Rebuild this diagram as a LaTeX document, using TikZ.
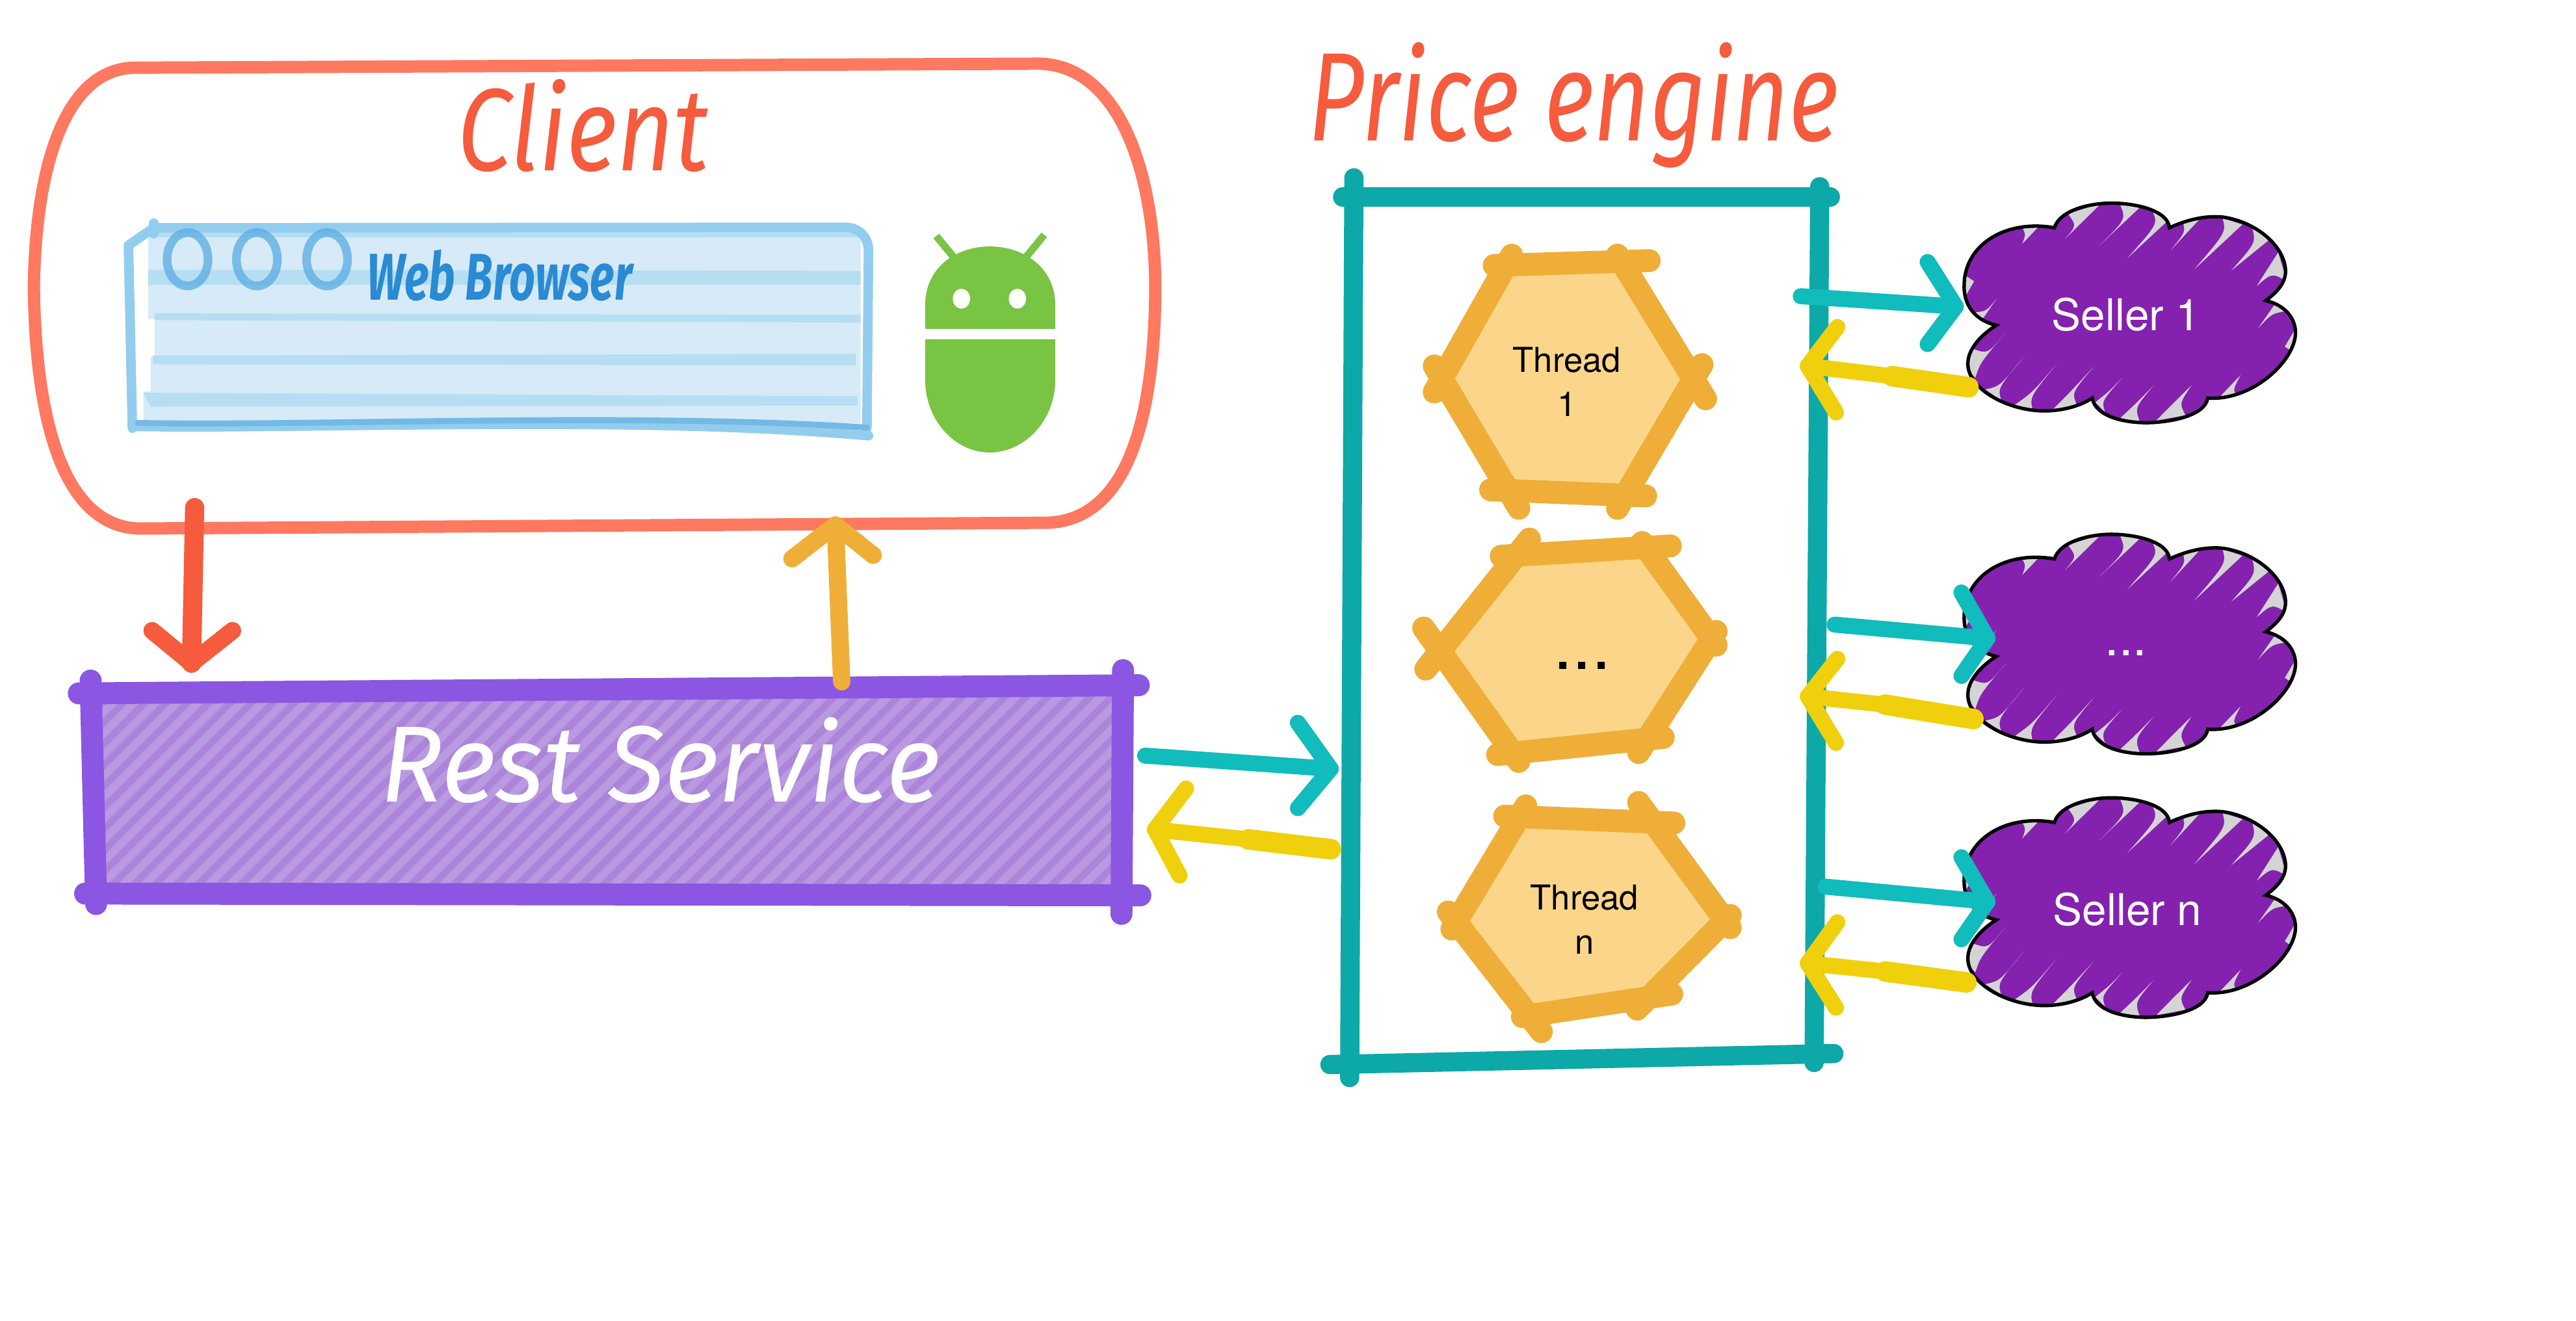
\documentclass[tikz,border=0pt]{standalone}
\usepackage{fontspec}
\setmainfont{TeX Gyre Heros}
\newfontfamily\hand{Fira Sans}
\definecolor{clientred}{HTML}{FF7860}
\definecolor{titlered}{HTML}{F55B3C}
\definecolor{bfill}{HTML}{D6EBF7}
\definecolor{bstripe}{HTML}{B6DEF2}
\definecolor{bline}{HTML}{92CDEE}
\definecolor{bcirc}{HTML}{5BACE2}
\definecolor{btext}{HTML}{2A8AD4}
\definecolor{droid}{HTML}{79C443}
\definecolor{restline}{HTML}{8A56E2}
\definecolor{restfill}{HTML}{B999E0}
\definecolor{resthatch}{HTML}{AC84DA}
\definecolor{tealbox}{HTML}{0DA8A8}
\definecolor{tealarrow}{HTML}{10BCBC}
\definecolor{yellowarrow}{HTML}{F0D00C}
\definecolor{hexline}{HTML}{EFAE38}
\definecolor{hexfill}{HTML}{FBD68A}
\definecolor{cloudfill}{HTML}{8421AE}
\definecolor{cloudgrey}{HTML}{D4D4D4}
\tikzset{
  zA/.style={shift={(0,15.8)},xscale=.4797,yscale=.3533},
  zB/.style={shift={(791.5,15.8)},xscale=.429,yscale=.4165},
  zC/.style={shift={(1187.3,119.1+#1)},xscale=.1505,yscale=.1304},
  hexedge/.style={draw=hexline,line width=10pt,line cap=round,line join=round},
  hexbody/.style={fill=hexfill},
  tealedge/.style={draw=tealbox,line width=8.4pt,line cap=round},
  restedge/.style={draw=restline,line width=9.6pt,line cap=round},
  arrowline/.style={line width=#1,line cap=round,line join=round},
  tealarr/.style={draw=tealarrow,arrowline=7pt},
  yellowarr/.style={draw=yellowarrow,arrowline=7pt},
  yellowfat/.style={draw=yellowarrow,arrowline=9pt},
  bedge/.style={draw=bline,line width=4.2pt,line cap=round,line join=round},
  bcircle/.style={draw=bcirc,opacity=.75,line width=3.8pt},
  handtitle/.style={inner sep=0pt,text=titlered},
}
\newcommand{\cloudpath}{(185,605) .. controls (90,580) and (50,500) .. (55,410) .. controls (60,230) and (220,110) .. (420,150)
 .. controls (440,70) and (560,35) .. (650,35) .. controls (750,35) and (880,70) .. (885,150)
 .. controls (980,100) and (1050,95) .. (1100,100) .. controls (1230,120) and (1350,230) .. (1355,350) .. controls (1355,410) and (1320,450) .. (1275,490)
 .. controls (1350,510) and (1395,570) .. (1395,640) .. controls (1395,770) and (1220,960) .. (1040,945)
 .. controls (1030,1030) and (880,1060) .. (790,1060) .. controls (700,1060) and (585,1030) .. (573,945)
 .. controls (500,1000) and (410,1005) .. (380,1005) .. controls (230,1005) and (65,900) .. (70,780) .. controls (72,710) and (130,645) .. (185,605) -- cycle}
\newcommand{\cloudat}[5]{%
\begin{scope}[zC=#1]
 \fill[cloudfill] \cloudpath;
 \begin{scope}
  \clip \cloudpath;
  \fill[cloudgrey]
   (290,225) .. controls (305,180) .. (285,140) -- (360,140) -- cycle
   (462,203) .. controls (510,140) .. (475,85) -- (610,35) -- cycle
   (603,232) .. controls (710,110) .. (685,40) -- (770,50) -- cycle
   (715,292) .. controls (840,130) .. (815,70) -- (885,110) -- cycle
   (888,258) .. controls (950,170) .. (940,125) -- (1015,100) -- cycle
   (985,345) .. controls (1115,170) .. (1100,105) -- (1180,135) -- cycle
   (1135,350) .. controls (1235,220) .. (1220,150) -- (1290,205) -- cycle
   (1238,422) -- (1325,265) -- (1360,400) .. controls (1300,360) .. (1238,422) -- cycle
   (1243,620) -- (1310,510) -- (1355,540) .. controls (1300,550) .. (1243,620) -- cycle
   (1352,705) -- (1395,620) -- (1378,725) -- cycle
   (50,365) -- (95,400) -- (50,490) -- cycle
   (187,480) .. controls (145,540) .. (95,545) -- (130,575) -- cycle
   (222,640) .. controls (150,740) .. (90,715) -- (60,800) -- (100,850) .. controls (120,780) .. (222,640) -- cycle
   (298,750) .. controls (200,890) .. (140,905) -- (205,955) .. controls (190,900) .. (298,750) -- cycle
   (430,785) .. controls (330,920) .. (258,978) -- (332,1000) .. controls (320,940) .. (430,785) -- cycle
   (580,797) .. controls (490,910) .. (412,1000) -- (510,975) .. controls (490,920) .. (580,797) -- cycle
   (695,850) .. controls (640,915) .. (585,965) -- (625,1010) .. controls (610,960) .. (695,850) -- cycle
   (820,888) .. controls (750,970) .. (685,1040) -- (765,1055) .. controls (745,990) .. (820,888) -- cycle
   (975,885) .. controls (900,970) .. (832,1050) -- (950,1025) .. controls (925,970) .. (975,885) -- cycle
   (1173,838) -- (1080,950) -- (1165,940) .. controls (1140,910) .. (1173,838) -- cycle;
 \end{scope}
 \draw[black,line width=1.5pt] \cloudpath;
 \node[#4,text=white,inner sep=0pt] (#2) at (#5) {#3};
\end{scope}}
\begin{document}
\begin{tikzpicture}[x=0.025268cm,y=-0.025268cm]
\useasboundingbox (0,0) rectangle (1568,804);
\fill[white] (0,0) rectangle (1568,804);

% ---------- client
\begin{scope}[zA]
 \draw[clientred,line width=5.4pt] (170,72) -- (1320,65) .. controls (1420,70) and (1465,250) .. (1466,450) .. controls (1465,680) and (1430,850) .. (1330,856) -- (175,866) .. controls (80,860) and (45,680) .. (43,450) .. controls (45,250) and (80,75) .. (170,72) -- cycle;
 \node[handtitle] (clienttitle) at (740,172) {\resizebox{110pt}{40pt}{\hand\itshape Client}};
 % browser
 \fill[bfill] (188,352) -- (1092,352) -- (1092,685) -- (182,685) -- (182,630) -- (191,630) -- (191,570) -- (196,570) -- (196,505) -- (188,505) -- cycle;
 \fill[bstripe] (188,352) -- (1092,352) -- (1092,364) -- (188,364) -- cycle;
 \fill[bstripe] (188,420) -- (1092,422) -- (1092,446) -- (188,446) -- cycle;
 \fill[bstripe] (196,495) -- (1092,498) -- (1092,511) -- (196,507) -- cycle;
 \fill[bstripe] (194,568) -- (1086,565) -- (1086,585) -- (194,583) -- cycle;
 \fill[bstripe] (182,632) -- (1088,638) -- (1088,654) -- (191,656) -- cycle;
 \draw[bedge] (168,693) -- (163,378) -- (195,348) -- (1075,347) .. controls (1095,350) and (1103,370) .. (1102,392) -- (1100,693);
 \draw[bedge] (195,340) -- (195,358);
 \draw[bedge] (168,690) .. controls (400,695) and (800,670) .. (1102,706);
 \draw[bedge,draw=bline!70!btext,line width=2.6pt] (175,684) .. controls (400,690) and (800,665) .. (1100,692);
 \foreach \cx/\cn in {238/a,326/b,415/c}
  \draw[bcircle] (\cx,402) ellipse [x radius=26,y radius=46];
 \node[inner sep=0pt,text=btext] (webbrowser) at (634,430) {\resizebox{116pt}{22pt}{\hand\bfseries\itshape Web Browser}};
 % android
 \fill[droid] (1174,522) -- (1174,480) .. controls (1174,420) and (1210,380) .. (1256,380) .. controls (1302,380) and (1339,420) .. (1339,480) -- (1339,522) -- cycle;
 \fill[droid] (1174,540) -- (1339,540) -- (1339,610) .. controls (1339,680) and (1300,735) .. (1256,735) .. controls (1212,735) and (1174,680) .. (1174,610) -- cycle;
 \fill[white] (1220,470) ellipse [x radius=11,y radius=17];
 \fill[white] (1291,470) ellipse [x radius=11,y radius=17];
 \draw[droid,line width=3.2pt] (1216,408) -- (1188,362);
 \draw[droid,line width=3.2pt] (1296,408) -- (1325,360);
\end{scope}

% ---------- rest service
\fill[restfill] (60,426) -- (678,421) -- (678,542) -- (60,540) -- cycle;
\begin{scope}
 \clip (60,426) -- (678,421) -- (678,542) -- (60,540) -- cycle;
 \foreach \i in {-120,-107,...,700}
  \draw[resthatch,line width=3pt] (\i,545) -- ++(130,-130);
\end{scope}
\begin{scope}[zA]
 \draw[restedge] (100,1150) -- (1445,1136);
 \draw[restedge] (108,1495) -- (1447,1498);
 \draw[restedge] (115,1128) -- (122,1513);
 \draw[restedge] (1425,1110) -- (1423,1530);
 \node[inner sep=0pt,text=white] (restservice) at (838,1265) {\resizebox{245pt}{37pt}{\hand\itshape Rest Service}};
 % client <-> rest arrows
 \coordinate (redstart) at (247,830);
 \coordinate (redend) at (243,1098);
 \coordinate (redl) at (193,1042);
 \coordinate (redr) at (295,1042);
 \coordinate (orstart) at (1068,1130);
 \coordinate (orend) at (1060,860);
 \coordinate (orl) at (1005,918);
 \coordinate (orr) at (1108,912);
\end{scope}
\draw[titlered,arrowline=8.4pt] (redstart) -- (redend);
\draw[titlered,arrowline=7.6pt] (redl) -- (redend) -- (redr);
\draw[hexline,arrowline=7.6pt] (orstart) -- (orend);
\draw[hexline,arrowline=7.6pt] (orl) -- (orend) -- (orr);

% ---------- price engine
\begin{scope}[zB]
 \node[handtitle] (enginetitle) at (388,116) {\resizebox{232pt}{43pt}{\hand\itshape Price engine}};
 \draw[tealedge] (60,250) -- (752,250);
 \draw[tealedge] (42,1518) -- (757,1502);
 \draw[tealedge] (76,222) -- (70,1537);
 \draw[tealedge] (737,235) -- (729,1515);
 % hexagon 1
 \fill[hexbody] (300,350) -- (460,345) -- (555,520) -- (465,680) -- (295,675) -- (205,510) -- cycle;
 \draw[hexedge] (275,350) -- (495,343) (450,335) -- (575,545) (570,495) -- (450,705) (490,687) -- (270,678) (190,497) -- (310,705) (300,335) -- (190,535);
 \node[align=center,font=\fontsize{15}{19.5}\selectfont,inner sep=0pt] (thread1) at (378,520) {Thread\\1};
 % hexagon 2
 \fill[hexbody] (310,780) -- (495,765) -- (580,895) -- (505,1035) -- (295,1058) -- (205,920) -- cycle;
 \draw[hexedge] (285,775) -- (525,760) (485,755) -- (590,905) (590,885) -- (480,1062) (515,1040) -- (280,1065) (310,1075) -- (175,880) (325,750) -- (178,940);
 \node[font=\fontsize{30}{34}\selectfont,inner sep=0pt] (threaddots) at (400,935) {...};
 % hexagon 3
 \fill[hexbody] (325,1158) -- (495,1165) -- (600,1305) -- (495,1408) -- (330,1440) -- (225,1305) -- cycle;
 \draw[hexedge] (290,1155) -- (530,1165) (480,1135) -- (610,1318) (610,1300) -- (478,1437) (527,1415) -- (315,1448) (210,1295) -- (342,1470) (320,1140) -- (215,1320);
 \node[align=center,font=\fontsize{15}{19.5}\selectfont,inner sep=0pt] (threadn) at (403,1306) {Thread\\n};
\end{scope}

% ---------- sellers
\cloudat{0}{seller1}{Seller 1}{font=\fontsize{19.2}{22}\selectfont}{710,555}
\cloudat{201.6}{sellerdots}{...}{font=\fontsize{22}{26}\selectfont}{710,590}
\cloudat{362}{sellern}{Seller n}{font=\fontsize{19.2}{22}\selectfont}{715,555}

% ---------- seller arrows
\begin{scope}[zB]
 \coordinate (ta) at (710,395); \coordinate (tb) at (930,410); \coordinate (tc) at (890,345); \coordinate (td) at (890,465);
 \coordinate (ya) at (948,528); \coordinate (yb) at (840,512); \coordinate (yc) at (720,497); \coordinate (yd) at (762,440); \coordinate (ye) at (760,565);
 \coordinate (ua) at (758,875); \coordinate (ub) at (975,895); \coordinate (uc) at (938,828); \coordinate (ud) at (938,950);
 \coordinate (va) at (955,1013); \coordinate (vb) at (830,992); \coordinate (vc) at (720,980); \coordinate (vd) at (762,925); \coordinate (ve) at (760,1048);
 \coordinate (pa) at (745,1258); \coordinate (pb) at (975,1280); \coordinate (pc) at (938,1215); \coordinate (pd) at (938,1335);
 \coordinate (qa) at (945,1398); \coordinate (qb) at (830,1382); \coordinate (qc) at (720,1370); \coordinate (qd) at (762,1310); \coordinate (qe) at (760,1435);
\end{scope}
\draw[tealarr] (ta) -- (tb); \draw[tealarr] (tc) -- (tb) -- (td);
\draw[yellowarr] (yb) -- (yc); \draw[yellowfat] (ya) -- (yb); \draw[yellowarr] (yd) -- (yc) -- (ye);
\draw[tealarr] (ua) -- (ub); \draw[tealarr] (uc) -- (ub) -- (ud);
\draw[yellowarr] (vb) -- (vc); \draw[yellowfat] (va) -- (vb); \draw[yellowarr] (vd) -- (vc) -- (ve);
\draw[tealarr] (pa) -- (pb); \draw[tealarr] (pc) -- (pb) -- (pd);
\draw[yellowarr] (qb) -- (qc); \draw[yellowfat] (qa) -- (qb); \draw[yellowarr] (qd) -- (qc) -- (qe);

% ---------- rest <-> engine arrows
\coordinate (ra) at (697,460); \coordinate (rb) at (810,468); \coordinate (rc) at (790,440); \coordinate (rd) at (790,492);
\coordinate (sa) at (810,517); \coordinate (sm) at (760,511); \coordinate (sb) at (703,505); \coordinate (sc) at (722,480); \coordinate (sd) at (718,533);
\draw[tealarr] (ra) -- (rb); \draw[tealarr] (rc) -- (rb) -- (rd);
\draw[yellowarr] (sm) -- (sb); \draw[yellowfat] (sa) -- (sm); \draw[yellowarr] (sc) -- (sb) -- (sd);
\end{tikzpicture}
\end{document}
